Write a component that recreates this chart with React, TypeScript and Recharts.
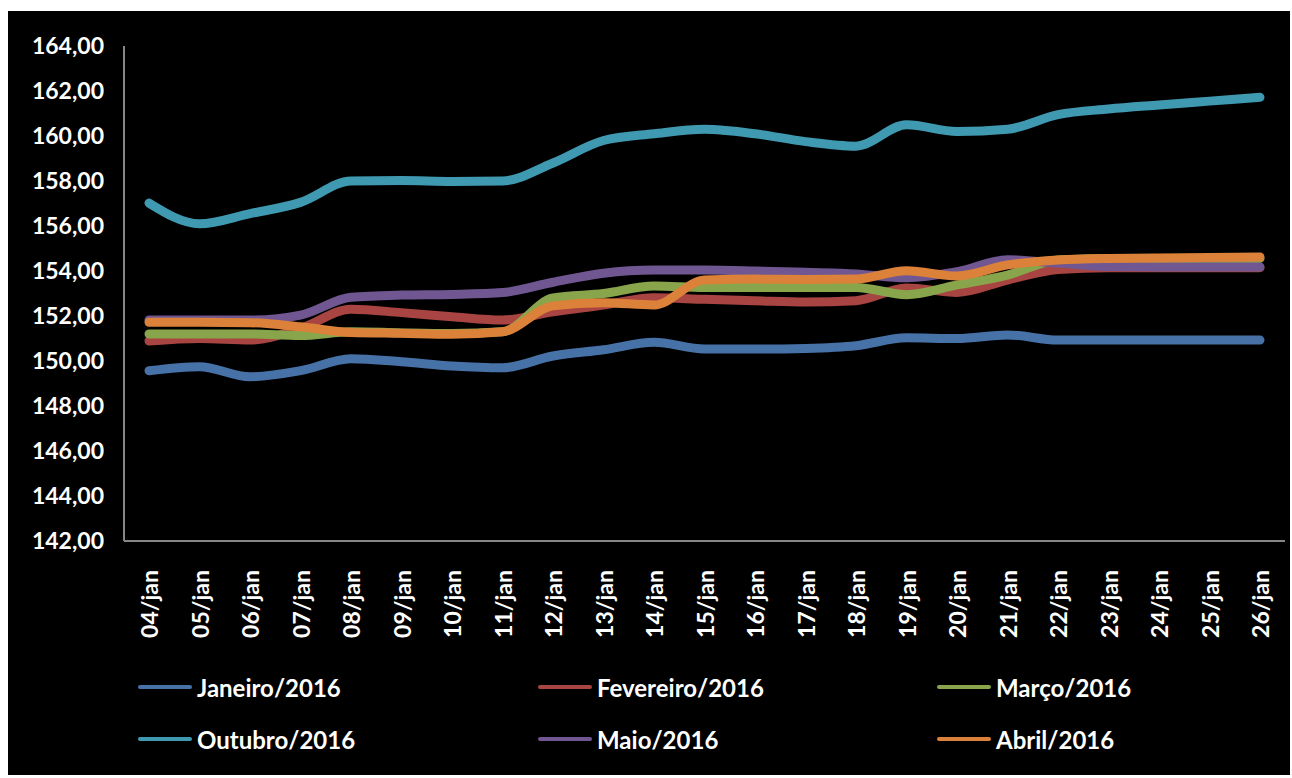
import { Line, LineChart, XAxis, YAxis } from 'recharts';

const dias = ['04/jan', '05/jan', '06/jan', '07/jan', '08/jan', '09/jan', '10/jan', '11/jan', '12/jan', '13/jan', '14/jan', '15/jan', '16/jan', '17/jan', '18/jan', '19/jan', '20/jan', '21/jan', '22/jan', '23/jan', '24/jan', '25/jan', '26/jan'];

const janeiro = [149.57, 149.75, 149.3, 149.57, 150.1, 149.97, 149.78, 149.7, 150.22, 150.5, 150.83, 150.53, 150.53, 150.56, 150.68, 151.03, 151.0, 151.16, 150.93, 150.93, 150.93, 150.93, 150.93];
const fevereiro = [150.89, 151.0, 150.93, 151.45, 152.3, 152.15, 151.97, 151.82, 152.19, 152.49, 152.81, 152.74, 152.68, 152.62, 152.68, 153.25, 153.05, 153.6, 154.07, 154.15, 154.15, 154.15, 154.15];
const marco = [151.2, 151.2, 151.2, 151.13, 151.3, 151.25, 151.22, 151.3, 152.8, 153.0, 153.33, 153.27, 153.27, 153.27, 153.27, 152.95, 153.38, 153.82, 154.49, 154.56, 154.56, 154.56, 154.56];
const outubro = [157.02, 156.1, 156.55, 157.05, 158.0, 158.02, 157.98, 158.0, 158.8, 159.8, 160.1, 160.3, 160.1, 159.75, 159.55, 160.5, 160.2, 160.3, 160.95, 161.2, 161.38, 161.55, 161.72];
const maio = [151.82, 151.82, 151.82, 152.04, 152.83, 152.93, 152.96, 153.04, 153.5, 153.9, 154.04, 154.04, 154.0, 153.94, 153.87, 153.7, 153.97, 154.5, 154.35, 154.2, 154.18, 154.18, 154.18];
const abril = [151.72, 151.72, 151.7, 151.52, 151.27, 151.23, 151.19, 151.3, 152.45, 152.59, 152.49, 153.6, 153.64, 153.62, 153.64, 154.01, 153.78, 154.27, 154.49, 154.56, 154.58, 154.6, 154.62];

const yTicks = [142, 144, 146, 148, 150, 152, 154, 156, 158, 160, 162, 164];

const series = [
    { key: 'jan', name: 'Janeiro/2016', color: '#4672a8', values: janeiro },
    { key: 'fev', name: 'Fevereiro/2016', color: '#a84441', values: fevereiro },
    { key: 'mar', name: 'Março/2016', color: '#89a54b', values: marco },
    { key: 'out', name: 'Outubro/2016', color: '#3f99b0', values: outubro },
    { key: 'mai', name: 'Maio/2016', color: '#715792', values: maio },
    { key: 'abr', name: 'Abril/2016', color: '#db8139', values: abril },
];

const data = dias.map((dia, i) => {
    const row: Record<string, string | number> = { dia };
    series.forEach((s) => (row[s.key] = s.values[i]));
    return row;
});

const font = 'Lato, "Open Sans", sans-serif';
const fmt = (v: number) => v.toFixed(2).replace('.', ',');

function DiaTick({ x, y, payload }: any) {
    return (
        <g transform={`translate(${x},${y + 27})`}>
            <text transform="rotate(-90)" textAnchor="end" dominantBaseline="central" fill="#fff" fontFamily={font} fontWeight={700} fontSize={23}>
                {payload.value}
            </text>
        </g>
    );
}

export default function App() {
    return (
        <div style={{ position: 'absolute', left: 8, top: 11, width: 1282, height: 764, background: '#000' }}>
            <LineChart width={1282} height={764} data={data} margin={{ top: 35, right: 5, left: 0, bottom: 0 }}>
                <XAxis
                    dataKey="dia"
                    height={234}
                    interval={0}
                    padding={{ left: 25, right: 25 }}
                    tickLine={false}
                    tickSize={0}
                    tick={<DiaTick />}
                    stroke="#868686"
                    strokeWidth={2}
                />
                <YAxis
                    width={116}
                    domain={[142, 164]}
                    ticks={yTicks}
                    tickFormatter={fmt}
                    tickLine={false}
                    tickSize={0}
                    tickMargin={20}
                    stroke="#868686"
                    strokeWidth={2}
                    tick={{ fill: '#fff', fontFamily: font, fontWeight: 700, fontSize: 23 }}
                />
                {series.map((s) => (
                    <Line key={s.key} type="monotone" dataKey={s.key} name={s.name} stroke={s.color} strokeWidth={9} strokeLinecap="round" dot={false} isAnimationActive={false} />
                ))}
            </LineChart>
            {series.map((s, i) => {
                const col = i % 3;
                const row = Math.floor(i / 3);
                return (
                    <div key={s.key} style={{ position: 'absolute', left: [130, 530, 929][col], top: 676 + row * 52 - 15, height: 30, display: 'flex', alignItems: 'center' }}>
                        <div style={{ width: 54, height: 4, borderRadius: 2, background: s.color }} />
                        <span style={{ marginLeft: 5, color: '#fff', fontFamily: font, fontWeight: 700, fontSize: 24 }}>{s.name}</span>
                    </div>
                );
            })}
        </div>
    );
}
